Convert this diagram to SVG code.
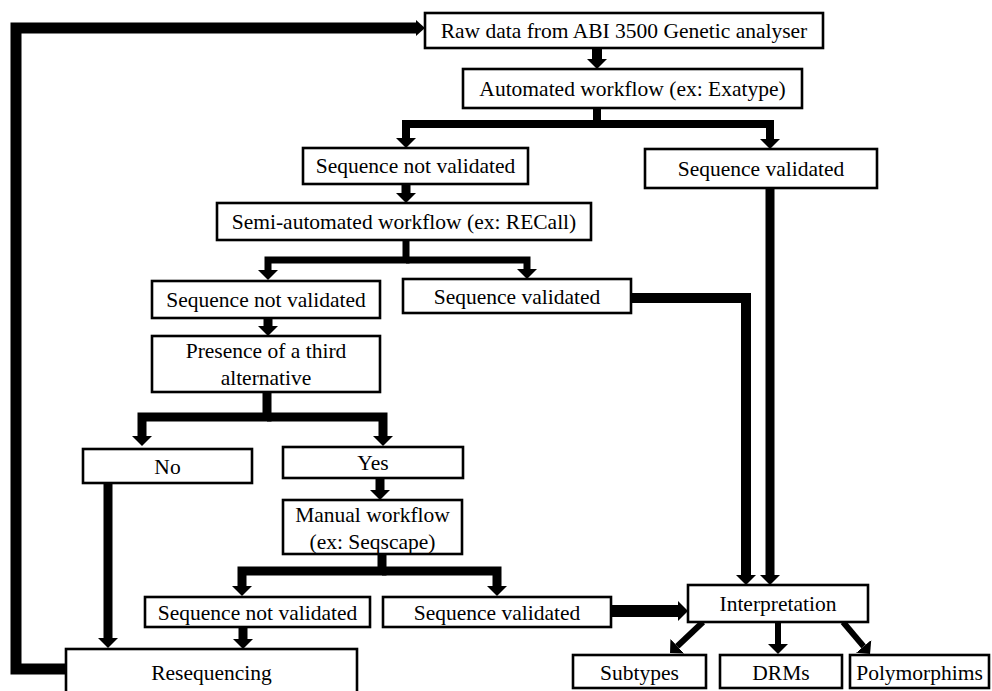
<svg xmlns="http://www.w3.org/2000/svg" width="992" height="691" viewBox="0 0 992 691">
<style>
.box{fill:#fff;stroke:#000;stroke-width:2.6}
.t{font-family:"Liberation Serif","Times New Roman",serif;font-size:21.5px;fill:#000;text-anchor:middle}
.c{fill:none;stroke:#000;stroke-linejoin:miter;stroke-linecap:butt}
</style>
<defs>
<marker id="ah" markerUnits="userSpaceOnUse" markerWidth="10" markerHeight="20" viewBox="0 0 10 20" refX="0" refY="10" orient="auto"><path d="M0,0 L10,10 L0,20 z" fill="#000"/></marker>
<marker id="ahs" markerUnits="userSpaceOnUse" markerWidth="9" markerHeight="16" viewBox="0 0 9 16" refX="0" refY="8" orient="auto"><path d="M0,0 L9,8 L0,16 z" fill="#000"/></marker>
</defs>
<rect width="992" height="691" fill="#fff"/>
<g id="connectors">
<path class="c" d="M66,669 H16 V28 H416" stroke-width="11" marker-end="url(#ahs)"/>
<path class="c" d="M597,48 V59" stroke-width="10" marker-end="url(#ah)"/>
<path class="c" d="M597,108 V124 H406 V138" stroke-width="8" marker-end="url(#ah)"/>
<path class="c" d="M597,124 H770 V139" stroke-width="8" marker-end="url(#ah)"/>
<path class="c" d="M406,184 V193" stroke-width="9" marker-end="url(#ah)"/>
<path class="c" d="M770,188 V575" stroke-width="9" marker-end="url(#ah)"/>
<path class="c" d="M406,240 V260 H268 V270" stroke-width="7" marker-end="url(#ah)"/>
<path class="c" d="M406,260 H527 V269" stroke-width="7" marker-end="url(#ah)"/>
<path class="c" d="M631,298 H746 V575" stroke-width="10" marker-end="url(#ah)"/>
<path class="c" d="M268,318 V326" stroke-width="9" marker-end="url(#ah)"/>
<path class="c" d="M267,392 V417 H142 V436" stroke-width="9" marker-end="url(#ah)"/>
<path class="c" d="M267,417 H383 V436" stroke-width="9" marker-end="url(#ah)"/>
<path class="c" d="M108,483 V638" stroke-width="9" marker-end="url(#ah)"/>
<path class="c" d="M380,478 V490" stroke-width="9" marker-end="url(#ah)"/>
<path class="c" d="M382,554 V571 H242 V586" stroke-width="9" marker-end="url(#ah)"/>
<path class="c" d="M382,571 H497 V586" stroke-width="9" marker-end="url(#ah)"/>
<path class="c" d="M243,627 V639" stroke-width="9" marker-end="url(#ah)"/>
<path class="c" d="M611,611 H678" stroke-width="12" marker-end="url(#ah)"/>
<path class="c" d="M703,622 L677.3,646.2" stroke-width="6" marker-end="url(#ah)"/>
<path class="c" d="M778,622 V644" stroke-width="6" marker-end="url(#ah)"/>
<path class="c" d="M843,622 L863.6,646.4" stroke-width="6" marker-end="url(#ah)"/>
</g>
<g id="raw"><rect class="box" x="425" y="13" width="398" height="35"/><text class="t" x="624" y="38">Raw data from ABI 3500 Genetic analyser</text></g>
<g id="auto"><rect class="box" x="463" y="69" width="339" height="39"/><text class="t" x="632.5" y="96">Automated workflow (ex: Exatype)</text></g>
<g id="snv1"><rect class="box" x="303" y="148" width="225" height="36"/><text class="t" x="415.5" y="173">Sequence not validated</text></g>
<g id="sv1"><rect class="box" x="645" y="149" width="232" height="39"/><text class="t" x="761" y="176">Sequence validated</text></g>
<g id="semi"><rect class="box" x="217" y="203" width="374" height="37"/><text class="t" x="404" y="229">Semi-automated workflow (ex: RECall)</text></g>
<g id="snv2"><rect class="box" x="152" y="281" width="228" height="37"/><text class="t" x="266" y="307">Sequence not validated</text></g>
<g id="sv2"><rect class="box" x="403" y="279" width="228" height="34"/><text class="t" x="517" y="304">Sequence validated</text></g>
<g id="presence"><rect class="box" x="152" y="336" width="228" height="56"/><text class="t" x="266" y="358">Presence of a third</text><text class="t" x="266" y="385">alternative</text></g>
<g id="no"><rect class="box" x="83" y="449" width="169" height="34"/><text class="t" x="167.5" y="474">No</text></g>
<g id="yes"><rect class="box" x="283" y="447" width="180" height="31"/><text class="t" x="373" y="470">Yes</text></g>
<g id="manual"><rect class="box" x="283" y="500" width="179" height="54"/><text class="t" x="372.5" y="522">Manual workflow</text><text class="t" x="372.5" y="549">(ex: Seqscape)</text></g>
<g id="snv3"><rect class="box" x="145" y="597" width="225" height="30"/><text class="t" x="257.5" y="620">Sequence not validated</text></g>
<g id="sv3"><rect class="box" x="383" y="597" width="228" height="30"/><text class="t" x="497" y="620">Sequence validated</text></g>
<g id="reseq"><rect class="box" x="66" y="649" width="291" height="50"/><text class="t" x="211.5" y="680">Resequencing</text></g>
<g id="interp"><rect class="box" x="688" y="585" width="180" height="37"/><text class="t" x="778" y="611">Interpretation</text></g>
<g id="subtypes"><rect class="box" x="573" y="655" width="133" height="33"/><text class="t" x="639.5" y="680">Subtypes</text></g>
<g id="drms"><rect class="box" x="720" y="655" width="122" height="33"/><text class="t" x="781" y="680">DRMs</text></g>
<g id="poly"><rect class="box" x="850" y="655" width="139" height="33"/><text class="t" x="919.5" y="680">Polymorphims</text></g>
</svg>
